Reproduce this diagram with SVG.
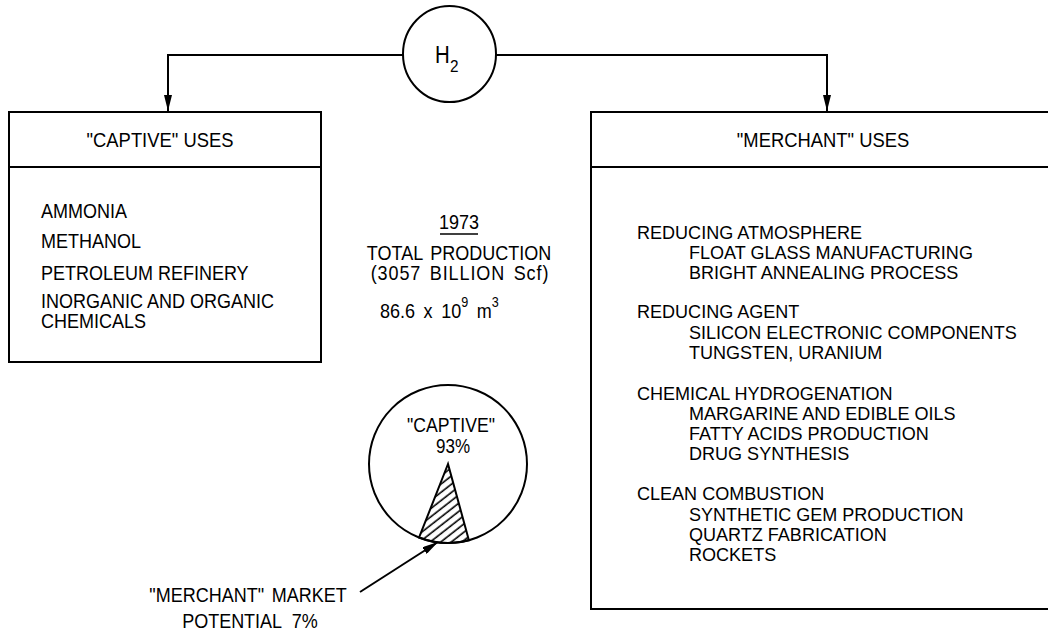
<svg xmlns="http://www.w3.org/2000/svg" width="1048" height="633" viewBox="0 0 1048 633">
<style>
.t{font-family:"Liberation Sans",Arial,sans-serif;font-size:20px;fill:#000}
.r{font-family:"Liberation Sans",Arial,sans-serif;font-size:19px;fill:#000}
.h{font-family:"Liberation Sans",Arial,sans-serif;font-size:20px;fill:#000}
.box{fill:#fff;stroke:#000;stroke-width:2}
.ln{fill:none;stroke:#000;stroke-width:2}
</style>
<defs>
<marker id="arr" markerUnits="userSpaceOnUse" viewBox="0 0 16 8" markerWidth="16" markerHeight="8" refX="16" refY="4" orient="auto">
<path d="M0,0 L16,4 L0,8 z" fill="#000"/>
</marker>
<pattern id="hatch" patternUnits="userSpaceOnUse" width="12" height="6.5" patternTransform="rotate(-38)">
<line x1="0" y1="3" x2="12" y2="3" stroke="#000" stroke-width="1.6"/>
</pattern>
</defs>

<g id="connectors">
<path class="ln" d="M403,55 H168 V111" marker-end="url(#arr)"/>
<path class="ln" d="M496,55 H827 V111" marker-end="url(#arr)"/>
<path class="ln" d="M360,592 L438,542" marker-end="url(#arr)"/>
</g>

<g id="h2">
<ellipse cx="449.5" cy="54" rx="46.5" ry="48" class="box"/>
<text transform="translate(435,63) scale(0.85,1)" font-family="Liberation Sans, Arial, sans-serif" font-size="24">H</text>
<text transform="translate(450,72) scale(0.9,1)" font-family="Liberation Sans, Arial, sans-serif" font-size="17">2</text>
</g>

<g id="captive-uses">
<rect x="9" y="112" width="312" height="250" class="box"/>
<line x1="9" y1="167" x2="321" y2="167" class="ln"/>
<text transform="translate(160,147) scale(0.92,1)" class="h" text-anchor="middle">"CAPTIVE" USES</text>
<text transform="translate(41,218) scale(0.9,1)" class="t">AMMONIA</text>
<text transform="translate(41,248) scale(0.9,1)" class="t">METHANOL</text>
<text transform="translate(41,280) scale(0.9,1)" class="t">PETROLEUM REFINERY</text>
<text transform="translate(41,308) scale(0.9,1)" class="t">INORGANIC AND ORGANIC</text>
<text transform="translate(41,328) scale(0.9,1)" class="t">CHEMICALS</text>
</g>

<g id="merchant-uses">
<rect x="591" y="112" width="470" height="497" class="box"/>
<line x1="591" y1="167" x2="1048" y2="167" class="ln"/>
<text transform="translate(823,147) scale(0.92,1)" class="h" text-anchor="middle">"MERCHANT" USES</text>
<text transform="translate(637,239) scale(0.95,1)" class="r">REDUCING ATMOSPHERE</text>
<text transform="translate(689,259) scale(0.95,1)" class="r">FLOAT GLASS MANUFACTURING</text>
<text transform="translate(689,279) scale(0.95,1)" class="r">BRIGHT ANNEALING PROCESS</text>
<text transform="translate(637,318) scale(0.95,1)" class="r">REDUCING AGENT</text>
<text transform="translate(689,339) scale(0.95,1)" class="r">SILICON ELECTRONIC COMPONENTS</text>
<text transform="translate(689,359) scale(0.95,1)" class="r">TUNGSTEN, URANIUM</text>
<text transform="translate(637,400) scale(0.95,1)" class="r">CHEMICAL HYDROGENATION</text>
<text transform="translate(689,420) scale(0.95,1)" class="r">MARGARINE AND EDIBLE OILS</text>
<text transform="translate(689,440) scale(0.95,1)" class="r">FATTY ACIDS PRODUCTION</text>
<text transform="translate(689,460) scale(0.95,1)" class="r">DRUG SYNTHESIS</text>
<text transform="translate(637,500) scale(0.95,1)" class="r">CLEAN COMBUSTION</text>
<text transform="translate(689,521) scale(0.95,1)" class="r">SYNTHETIC GEM PRODUCTION</text>
<text transform="translate(689,541) scale(0.95,1)" class="r">QUARTZ FABRICATION</text>
<text transform="translate(689,561) scale(0.95,1)" class="r">ROCKETS</text>
</g>

<g id="production">
<text transform="translate(459,229) scale(0.9,1)" class="t" text-anchor="middle">1973</text>
<line x1="440" y1="234" x2="478" y2="234" stroke="#000" stroke-width="1.5"/>
<text transform="translate(459,260) scale(0.9,1)" class="t" text-anchor="middle" word-spacing="3">TOTAL PRODUCTION</text>
<text transform="translate(460,280) scale(0.9,1)" class="t" text-anchor="middle" letter-spacing="1" word-spacing="3">(3057 BILLION Scf)</text>
<text transform="translate(380,318) scale(0.9,1)" class="t" word-spacing="4">86.6 x 10<tspan dy="-11" font-size="14">9</tspan><tspan dy="11"> m</tspan><tspan dy="-11" font-size="14">3</tspan></text>
</g>

<g id="pie">
<circle cx="448" cy="464" r="79" class="box"/>
<path d="M448,464 L419.1,537.5 A79,79 0 0 0 468.9,540.2 Z" fill="url(#hatch)" stroke="#000" stroke-width="2"/>
<text transform="translate(451,432) scale(0.88,1)" class="t" text-anchor="middle">"CAPTIVE"</text>
<text transform="translate(453,453) scale(0.85,1)" class="t" text-anchor="middle">93%</text>
</g>

<g id="merchant-market">
<text transform="translate(248,602) scale(0.9,1)" class="t" text-anchor="middle" word-spacing="3">"MERCHANT" MARKET</text>
<text transform="translate(250,628) scale(0.9,1)" class="t" text-anchor="middle" word-spacing="6">POTENTIAL 7%</text>
</g>
</svg>
